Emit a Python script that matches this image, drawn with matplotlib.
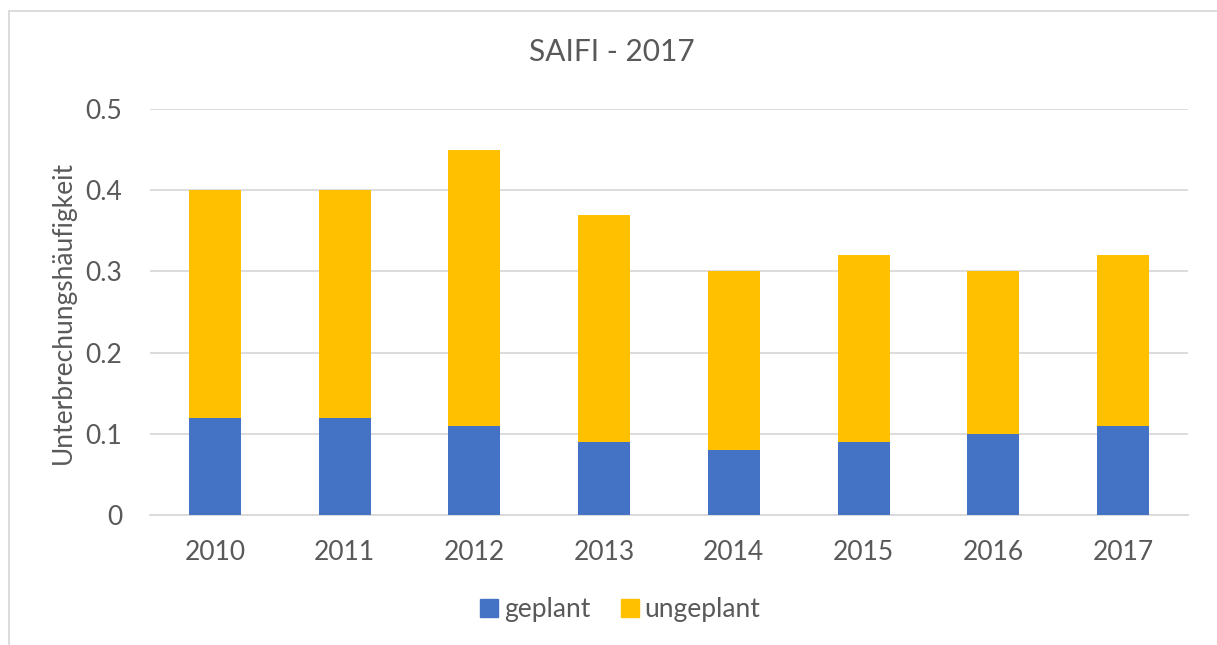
import matplotlib.pyplot as plt
import numpy as np
from matplotlib.lines import Line2D

years = ['2010', '2011', '2012', '2013', '2014', '2015', '2016', '2017']
geplant = [0.12, 0.12, 0.11, 0.09, 0.08, 0.09, 0.10, 0.11]
ungeplant = [0.28, 0.28, 0.34, 0.28, 0.22, 0.23, 0.20, 0.21]
y_ticks = [0, 0.1, 0.2, 0.3, 0.4, 0.5]
y_tick_labels = ['0', '0.1', '0.2', '0.3', '0.4', '0.5']

blue = '#4472C4'
gold = '#FFC000'
txt = '#595959'
grid = '#D9D9D9'

plt.rcParams['font.family'] = ['Lato', 'DejaVu Sans']

W, H = 1217, 645
fig = plt.figure(figsize=(W / 100, H / 100), dpi=100)
ax = fig.add_axes([150 / W, 1 - 515 / H, (1188 - 150) / W, (515 - 109) / H])

x = np.arange(len(years))
ax.bar(x, geplant, width=0.4, color=blue, zorder=3)
ax.bar(x, ungeplant, width=0.4, bottom=geplant, color=gold, zorder=3)

ax.set_xlim(-0.5, len(years) - 0.5)
ax.set_ylim(0, 0.5)
ax.set_yticks(y_ticks)
ax.set_yticklabels(y_tick_labels)
ax.set_xticks(x)
ax.set_xticklabels(years)
ax.tick_params(axis='both', length=0, labelsize=19, colors=txt)
ax.tick_params(axis='y', pad=20)
ax.tick_params(axis='x', pad=18)
ax.yaxis.grid(True, color=grid, linewidth=1.3, zorder=0)
for s in ['top', 'right', 'left']:
    ax.spines[s].set_visible(False)
ax.spines['bottom'].set_color(grid)
ax.spines['bottom'].set_linewidth(1.3)

ax.set_ylabel('Unterbrechungshäufigkeit', fontsize=19, color=txt, labelpad=7)

fig.text(612 / W, 1 - 52 / H, 'SAIFI - 2017', ha='center', va='center',
         fontsize=21.5, color=txt)

handles = [Line2D([], [], marker='s', linestyle='none', markersize=13,
                  markerfacecolor=blue, markeredgecolor=blue),
           Line2D([], [], marker='s', linestyle='none', markersize=13,
                  markerfacecolor=gold, markeredgecolor=gold)]
fig.legend(handles, ['geplant', 'ungeplant'], loc='center',
           bbox_to_anchor=(618 / W, 1 - 610 / H), ncol=2, frameon=False,
           fontsize=19, labelcolor=txt, handletextpad=0.05, columnspacing=1.0,
           handlelength=1.0)

# chart area border (left and top visible)
fig.add_artist(Line2D([9 / W, 9 / W], [0, 1 - 11 / H], color='#D9D9D9',
                      linewidth=1.3, transform=fig.transFigure))
fig.add_artist(Line2D([9 / W, 1], [1 - 11 / H, 1 - 11 / H], color='#D9D9D9',
                      linewidth=1.3, transform=fig.transFigure))

fig.savefig('out.png', dpi=100)
